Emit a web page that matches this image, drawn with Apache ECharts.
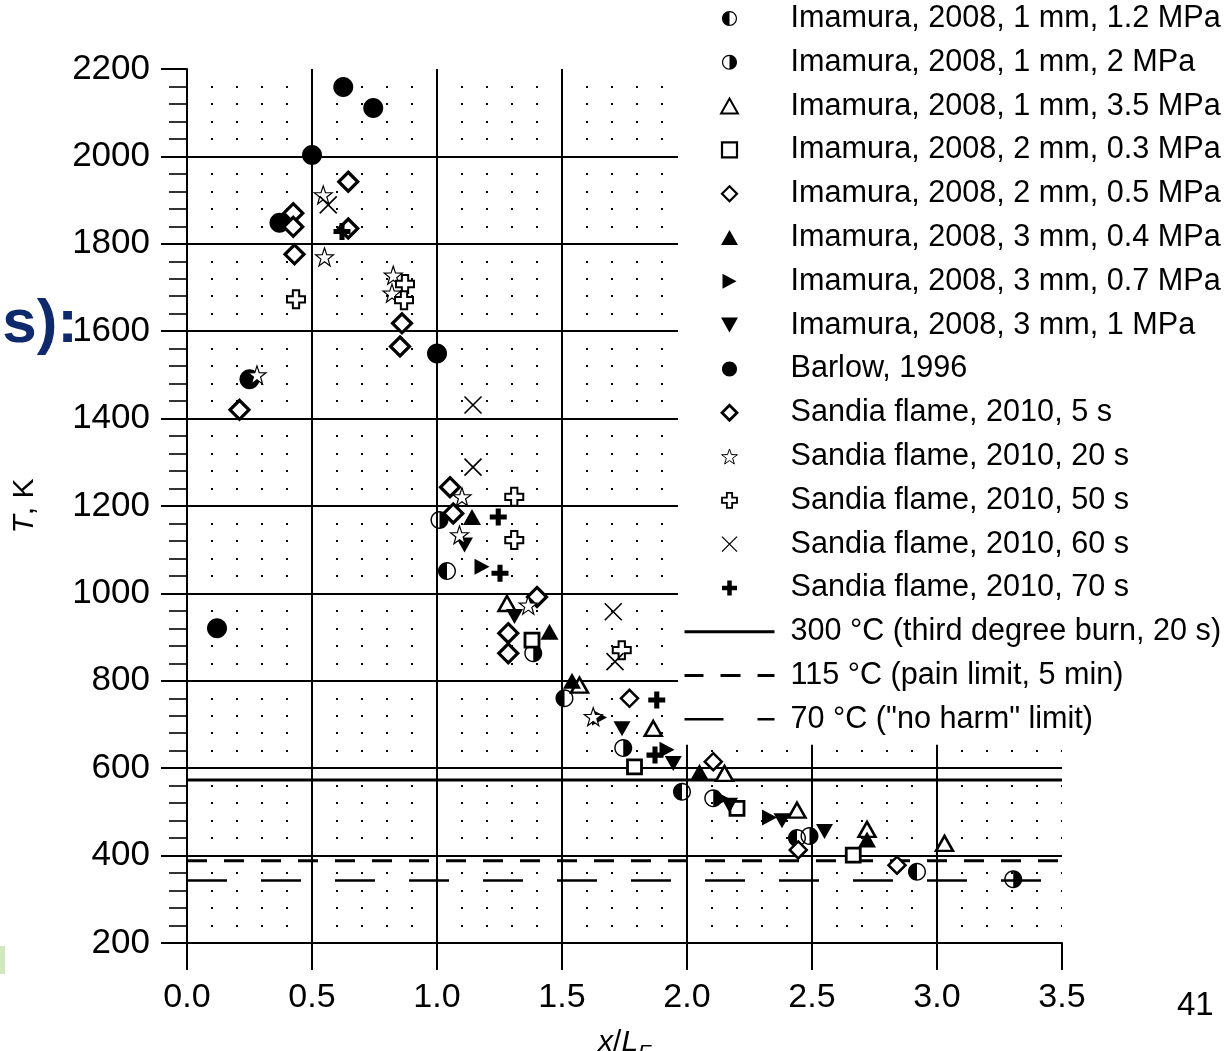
<!DOCTYPE html>
<html><head><meta charset="utf-8">
<script src="https://cdn.jsdelivr.net/npm/echarts@6/dist/echarts.min.js"></script>
<style>html,body{margin:0;padding:0;background:#fff}#c{width:1231px;height:1051px}</style>
</head><body><div id="c"></div>
<script>
// ---- data (x/L_F, T in K) ----
const xTickValues = [0, 0.5, 1.0, 1.5, 2.0, 2.5, 3.0, 3.5];
const yTickValues = [200, 400, 600, 800, 1000, 1200, 1400, 1600, 1800, 2000, 2200];
const imamura1mm12 = [[1.04,1051],[1.51,760],[1.98,546],[2.44,440],[2.92,363]];
const imamura1mm2  = [[1.01,1168],[1.385,863],[1.745,646],[2.105,531],[2.49,445],[3.305,346]];
const imamura1mm35 = [[1.28,977],[1.57,790],[1.865,691],[2.15,588],[2.44,504],[2.72,460],[3.03,428]];
const imamura2mm03 = [[1.38,893],[1.79,603],[2.20,508],[2.665,401]];
const imamura2mm05 = [[1.77,760],[2.105,615],[2.445,413],[2.84,378]];
const imamura3mm04 = [[1.14,1175],[1.45,912],[1.54,800],[2.05,592],[2.72,437]];
const imamura3mm07 = [[1.18,1061],[1.65,716],[1.92,642],[2.14,530],[2.33,487]];
const imamura3mm1  = [[1.11,1111],[1.31,947],[1.74,690],[1.945,611],[2.17,515],[2.38,480],[2.55,455]];
const barlow1996   = [[0.12,920],[0.25,1490],[0.37,1848],[0.50,2003],[0.625,2159],[0.745,2111],[1.0,1549]];
const sandia5s  = [[0.21,1420],[0.425,1870],[0.425,1839],[0.43,1776],[0.645,1942],[0.645,1835],[0.86,1618],[0.852,1565],[1.052,1243],[1.065,1183],[1.285,909],[1.285,863],[1.40,992]];
const sandia20s = [[0.28,1500],[0.545,1912],[0.55,1770],[0.825,1728],[0.82,1687],[1.10,1221],[1.09,1134],[1.365,973],[1.625,718]];
const sandia50s = [[0.436,1673],[0.872,1708],[0.868,1671],[1.309,1221],[1.309,1122],[1.739,870]];
const sandia60s = [[0.565,1889],[1.144,1431],[1.144,1289],[1.705,958],[1.712,844]];
const sandia70s = [[0.62,1828],[1.245,1175],[1.252,1046],[1.879,756],[1.872,630]];
const limitRange = [0, 3.5];
const limit300C = 573;
const limit115C = 388;
const limit70C = 343;
const names = [
  'Imamura, 2008, 1 mm, 1.2 MPa','Imamura, 2008, 1 mm, 2 MPa','Imamura, 2008, 1 mm, 3.5 MPa',
  'Imamura, 2008, 2 mm, 0.3 MPa','Imamura, 2008, 2 mm, 0.5 MPa','Imamura, 2008, 3 mm, 0.4 MPa',
  'Imamura, 2008, 3 mm, 0.7 MPa','Imamura, 2008, 3 mm, 1 MPa','Barlow, 1996',
  'Sandia flame, 2010, 5 s','Sandia flame, 2010, 20 s','Sandia flame, 2010, 50 s',
  'Sandia flame, 2010, 60 s','Sandia flame, 2010, 70 s',
  '300 °C (third degree burn, 20 s)','115 °C (pain limit, 5 min)','70 °C ("no harm" limit)'
];

// ---- symbols ----
const OUT = 'M10,0 C15.523,0 20,4.477 20,10 C20,15.523 15.523,20 10,20 C4.477,20 0,15.523 0,10 C0,4.477 4.477,0 10,0 Z ';
const halfLeft  = 'path://' + OUT + 'M10,1.6 L10,18.4 C14.64,18.4 18.4,14.64 18.4,10 C18.4,5.36 14.64,1.6 10,1.6 Z';
const halfRight = 'path://' + OUT + 'M10,1.6 C5.36,1.6 1.6,5.36 1.6,10 C1.6,14.64 5.36,18.4 10,18.4 Z';
const starPath  = 'path://M10,0 L12.35,6.76 L19.51,6.91 L13.8,11.24 L15.88,18.09 L10,14 L4.12,18.09 L6.2,11.24 L0.49,6.91 L7.65,6.76 Z';
const openCross = 'path://M6.5,0 L13.5,0 L13.5,6.5 L20,6.5 L20,13.5 L13.5,13.5 L13.5,20 L6.5,20 L6.5,13.5 L0,13.5 L0,6.5 L6.5,6.5 Z';
const boldPlus  = 'path://M7,0 L13,0 L13,7 L20,7 L20,13 L13,13 L13,20 L7,20 L7,13 L0,13 L0,7 L7,7 Z';
const xMark     = 'path://M0,0 L20,20 M20,0 L0,20';
const upTri     = 'path://M9,0 L18,16 L0,16 Z';
const downTri   = 'path://M0,0 L18,0 L9,16 Z';
const rightTri  = 'path://M0,0 L15,8 L0,16 Z';
const squarePath  = 'path://M0,0 L20,0 L20,20 L0,20 Z';
const diamondPath = 'path://M10,0 L20,10 L10,20 L0,10 Z';
const circlePath  = 'path://' + OUT;

function sc(name, data, symbol, size, fill, bw) {
  return {
    type: 'scatter', name, data, symbol, symbolSize: size, z: 3,
    itemStyle: { color: fill, borderColor: '#000', borderWidth: bw, opacity: 1 },
    emphasis: { disabled: true }, silent: true
  };
}
function hline(name, v, width, dash) {
  return {
    type: 'line', name, data: [[limitRange[0], v], [limitRange[1], v]],
    symbol: 'none', z: 2, silent: true, emphasis: { disabled: true },
    lineStyle: { color: '#000', width, type: dash },
    itemStyle: { color: '#000' }
  };
}

const series = [
  sc(names[0], imamura1mm12, halfLeft, 18, '#000', 0),
  sc(names[1], imamura1mm2, halfRight, 18, '#000', 0),
  sc(names[2], imamura1mm35, upTri, [17,15], '#fff', 2.5),
  sc(names[3], imamura2mm03, squarePath, 14, '#fff', 2.8),
  sc(names[4], imamura2mm05, diamondPath, 17, '#fff', 2.5),
  sc(names[5], imamura3mm04, upTri, [18,16], '#000', 0),
  sc(names[6], imamura3mm07, rightTri, [15,16], '#000', 0),
  sc(names[7], imamura3mm1, downTri, [17,15], '#000', 0),
  sc(names[8], barlow1996, circlePath, 20, '#000', 0),
  sc(names[9], sandia5s, diamondPath, 19, '#fff', 3.2),
  sc(names[10], sandia20s, starPath, 18, '#fff', 1.2),
  sc(names[11], sandia50s, openCross, 18, '#fff', 2),
  sc(names[12], sandia60s, xMark, 17, '#000', 1.6),
  sc(names[13], sandia70s, boldPlus, 17, '#000', 0),
  hline(names[14], limit300C, 3, 'solid'),
  hline(names[15], limit115C, 3, [20, 17]),
  hline(names[16], limit70C, 2.5, [40, 34])
];

const legendIconStyle = {
  2: { borderWidth: 2 }, 3: { borderWidth: 2.2 }, 4: { borderWidth: 2.2 },
  9: { borderWidth: 2.8 }, 10: { borderWidth: 1 }, 11: { borderWidth: 1.8 }, 12: { borderWidth: 1.3 }
};
const legendData = names.map((n, i) => {
  const o = { name: n };
  if (legendIconStyle[i]) o.itemStyle = legendIconStyle[i];
  if (i === 14) o.lineStyle = { color: '#000', width: 3, type: 'solid' };
  if (i === 15) o.lineStyle = { color: '#000', width: 3, type: [20, 17] };
  if (i === 16) o.lineStyle = { color: '#000', width: 2.5, type: [40, 34] };
  if (i >= 14) o.itemStyle = { color: 'rgba(0,0,0,0)', borderWidth: 0, opacity: 0 };
  return o;
});

const chart = echarts.init(document.getElementById('c'), null, { renderer: 'canvas' });
chart.setOption({
  animation: false,
  backgroundColor: '#fff',
  textStyle: { fontFamily: 'Liberation Sans, Arial, sans-serif', color: '#000' },
  grid: { left: 187, top: 69, width: 875, height: 874, containLabel: false, outerBoundsMode: 'none' },
  xAxis: {
    type: 'value', min: xTickValues[0], max: xTickValues[xTickValues.length - 1], interval: 0.5,
    axisLine: { show: true, onZero: false, lineStyle: { color: '#000', width: 2 } },
    axisTick: { show: true, inside: false, length: 27, lineStyle: { color: '#000', width: 2 } },
    axisLabel: { color: '#000', fontSize: 34, margin: 38, formatter: v => v.toFixed(1) },
    splitLine: { show: true, showMaxLine: false, lineStyle: { color: '#000', width: 2 } },
    name: '{i|x}/{i|L}{sub|F}', nameLocation: 'middle', nameGap: 78,
    nameTextStyle: { fontSize: 30, color: '#000',
      rich: { i: { fontSize: 30, fontStyle: 'italic', color: '#000' },
              sub: { fontSize: 21, fontStyle: 'italic', color: '#000', padding: [22, 0, 0, 0] } } }
  },
  yAxis: {
    type: 'value', min: yTickValues[0], max: yTickValues[yTickValues.length - 1], interval: 200,
    axisLine: { show: true, onZero: false, lineStyle: { color: '#000', width: 2 } },
    axisTick: { show: true, inside: false, length: 26, lineStyle: { color: '#000', width: 2 } },
    minorTick: { show: true, splitNumber: 5, length: 18, lineStyle: { color: '#000', width: 1.6 } },
    axisLabel: { color: '#000', fontSize: 35, margin: 37, formatter: v => String(v) },
    splitLine: { show: true, showMaxLine: false, lineStyle: { color: '#000', width: 2 } },
    minorSplitLine: { show: true, lineStyle: { color: '#000', width: 2, type: [2, 23], dashOffset: 1 } },
    name: '{i|T}, K', nameLocation: 'middle', nameGap: 147, nameRotate: 90,
    nameTextStyle: { fontSize: 30, color: '#000',
      rich: { i: { fontSize: 30, fontStyle: 'italic', color: '#000' } } }
  },
  legend: {
    show: true, orient: 'vertical', left: 678, top: 0,
    padding: [3, 6, 10, 5], backgroundColor: '#fff',
    itemWidth: 90, itemHeight: 15, itemGap: 12.8,
    selectedMode: false, data: legendData,
    textStyle: { fontSize: 30.6, lineHeight: 30, color: '#000', padding: [0, 0, 0, 11] }
  },
  graphic: [
    { type: 'text', left: 1177, top: 989, silent: true, style: { text: '41', fontSize: 33, fill: '#000', fontFamily: 'Liberation Sans, Arial, sans-serif' } },
    { type: 'text', silent: true, z: 10, style: { x: 78, y: 325, text: 's):', align: 'right', verticalAlign: 'middle', font: 'bold 62px Liberation Sans, Arial, sans-serif', fill: '#0e2a6c' } },
    { type: 'rect', silent: true, shape: { x: 0, y: 946, width: 5, height: 28 }, style: { fill: '#cfe8bf' } }
  ],
  series
});
</script></body></html>
